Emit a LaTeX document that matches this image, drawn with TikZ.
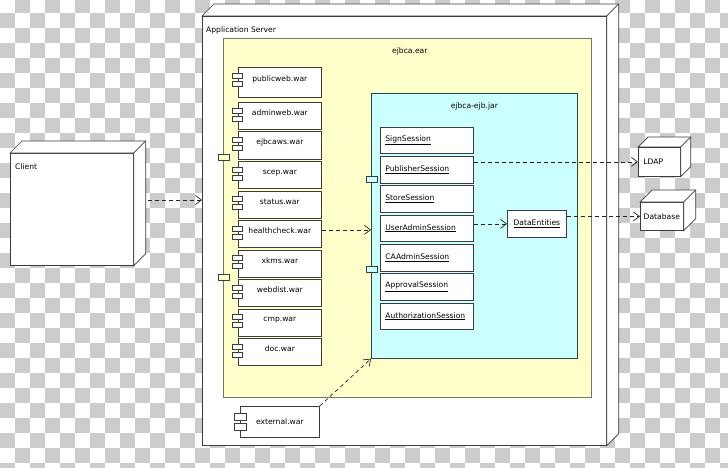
\documentclass[tikz,border=0pt]{standalone}
\usepackage{fontspec}
\setmainfont{DejaVu Sans}
\usepackage{tikz}
\usetikzlibrary{arrows.meta,positioning}
\definecolor{checker}{RGB}{204,204,204}
\definecolor{earfill}{RGB}{255,255,204}
\definecolor{earline}{RGB}{120,120,96}
\definecolor{jarfill}{RGB}{204,255,255}
\definecolor{jarline}{RGB}{40,72,72}
\definecolor{boxline}{RGB}{60,60,60}

% depth faces of a 3d box node
\newcommand\cubefaces[2]{%
  \filldraw[fill=white, draw=boxline, line width=0.7pt] (#1.north west) -- ++(#2,-#2)
    -- ([shift={(#2,-#2)}]#1.north east) -- ([shift={(#2,-#2)}]#1.south east)
    -- (#1.south east) -- (#1.north east) -- cycle;
  \draw[boxline, line width=0.7pt] (#1.north east) -- ++(#2,-#2);
}

\tikzset{
  every node/.append style={font=\fontsize{7.6}{9}\selectfont},
  cube/.style={draw=boxline, fill=white, line width=0.7pt, anchor=north west, inner sep=0pt},
  earbox/.style={draw=earline, fill=earfill, line width=0.7pt, anchor=north west},
  jarbox/.style={draw=jarline, fill=jarfill, line width=0.7pt, anchor=north west},
  warbox/.style={draw=boxline, fill=white, line width=0.7pt, minimum width=83pt, anchor=north west},
  sessionbox/.style={draw=boxline, fill=white, line width=0.7pt, minimum height=26.5pt,
    text width=83pt, align=left, inner xsep=5pt, anchor=north west},
  icon/.style={draw=boxline, fill=white, line width=0.6pt},
  port/.style={draw=boxline, line width=0.6pt, minimum width=11pt, minimum height=6pt, inner sep=0pt},
  dep/.style={draw=black!85, line width=0.7pt, dash pattern=on 4pt off 3pt,
    -{Straight Barb[length=6pt,width=9pt]}}
}

\begin{document}
\begin{tikzpicture}[x=1pt,y=-1pt]
\useasboundingbox (0,0) rectangle (728,468);

% Checker background
\fill[white] (0,0) rectangle (728,468);
\begin{scope}
\clip (0,0) rectangle (728,468);
\foreach \r in {0,...,31}{
  \pgfmathtruncatemacro\off{mod(\r+1,2)}
  \foreach \k in {0,...,24}
    \fill[checker] (30*\k+15*\off,15*\r-1.7) rectangle ++(15,15);
}
\end{scope}

% Nodes of the deployment
\node[cube, minimum width=123pt, minimum height=112pt,
  label={[anchor=north west, inner sep=0pt, xshift=5pt, yshift=-11pt]north west:Client}] (client) at (10,153) {};
\cubefaces{client}{12}

\node[cube, minimum width=404pt, minimum height=429pt,
  label={[anchor=north west, inner sep=0pt, xshift=4pt, yshift=-11pt]north west:Application Server}] (appserver) at (202,16) {};
\cubefaces{appserver}{12}

\node[cube, minimum width=42pt, minimum height=29pt, text width=32pt, align=left, inner xsep=5pt] (ldap) at (638,147) {LDAP};
\cubefaces{ldap}{10}

\node[cube, minimum width=43pt, minimum height=28pt] (database) at (640,202) {Database};
\cubefaces{database}{12}

% ejbca.ear
\node[earbox, minimum width=368pt, minimum height=359pt,
  label={[anchor=north, inner sep=0pt, xshift=2.5pt, yshift=-10pt]north:ejbca.ear}] (ear) at (223,38) {};

% ejbca-ejb.jar
\node[jarbox, minimum width=206pt, minimum height=265pt,
  label={[anchor=north, inner sep=0pt, yshift=-10pt]north:ejbca-ejb.jar}] (jar) at (371,93) {};

% War modules
\foreach \nm/\tp/\ht in {publicweb/67/30, adminweb/102/27, ejbcaws/131.5/27, scep/161/27,
    status/190.5/27, healthcheck/220/27, xkms/249.5/27, webdist/279/27, cmp/308.5/27, doc/338/27}{
  \node[warbox, minimum height=\ht pt] (\nm) at (238,\tp) {\nm.war};
  \draw[icon] ([shift={(-6,6)}]\nm.north west) rectangle ++(10,5);
  \draw[icon] ([shift={(-6,14)}]\nm.north west) rectangle ++(10,5);
}

\node[warbox, minimum width=79pt, minimum height=31pt] (external) at (240,406) {external.war};
\draw[icon] ([shift={(-6,7)}]external.north west) rectangle ++(12,7);
\draw[icon] ([shift={(-6,17)}]external.north west) rectangle ++(12,7);

% Session beans
\foreach \nm/\txt/\tp in {sign/SignSession/126.7, publisher/PublisherSession/156,
    store/StoreSession/185.3, useradmin/UserAdminSession/214.7, caadmin/CAAdminSession/244,
    approval/ApprovalSession/273.3, authorization/AuthorizationSession/302.7}{
  \node[sessionbox] (\nm) at (380,\tp) {\underline{\txt}};
}

\node[draw=boxline, fill=white, line width=0.7pt, anchor=north west, minimum width=59pt, minimum height=27pt] (data) at (507,210) {\underline{DataEntities}};

% Ports
\node[port, fill=earfill] (earportA) at (223.5,157) {};
\node[port, fill=earfill] (earportB) at (223.5,276.8) {};
\node[port, fill=jarfill] (jarportA) at (371.5,179.7) {};
\node[port, fill=jarfill] (jarportB) at (371.5,269) {};

% Dependencies
\draw[dep] ([xshift=14pt]client.east |- 0,200) -- (appserver.west |- 0,200);
\draw[dep] ([yshift=4pt]healthcheck.east) -- ([yshift=4pt]healthcheck.east -| jar.west);
\draw[dep] (publisher.east |- ldap.west) -- (ldap.west);
\draw[dep] (useradmin.east |- data.west) -- (data.west);
\draw[dep] (data.east |- database.west) -- (database.west);
\draw[dep] (external.north east) -- (jar.south west);

\end{tikzpicture}
\end{document}
